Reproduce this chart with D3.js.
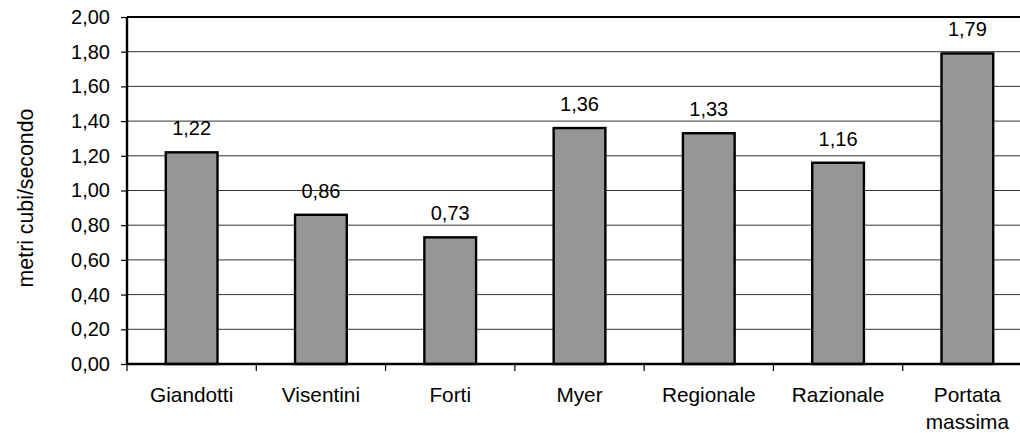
<!DOCTYPE html>
<html>
<head>
<meta charset="utf-8">
<script src="https://cdn.jsdelivr.net/npm/d3@7"></script>
<style>
  html, body { margin: 0; padding: 0; background: #fff; }
  svg { display: block; font-family: "Liberation Sans", Arial, sans-serif; }
</style>
</head>
<body>
<svg id="chart" width="1020" height="433"></svg>
<script>
// Portate stimate con i diversi metodi (m³/s)
const categories = ["Giandotti", "Visentini", "Forti", "Myer", "Regionale", "Razionale", "Portata massima"];
const values = [1.22, 0.86, 0.73, 1.36, 1.33, 1.16, 1.79];
const yTicks = [0, 0.2, 0.4, 0.6, 0.8, 1.0, 1.2, 1.4, 1.6, 1.8, 2.0];
const yTitle = "metri cubi/secondo";

const svg = d3.select("#chart");
const plotLeft = 127, plotTop = 17, plotBottom = 364, plotRight = 1032;

const it = d3.formatLocale({ decimal: ",", thousands: ".", grouping: [3], currency: ["€", ""] });
const fmt = it.format(".2f");

const x = d3.scaleBand()
  .domain(categories)
  .range([plotLeft, plotRight])
  .paddingInner(0.6)
  .paddingOuter(0.3);

const y = d3.scaleLinear().domain([0, 2]).range([plotBottom, plotTop]);

// horizontal gridlines
svg.append("g")
  .selectAll("line")
  .data(yTicks.slice(1))
  .join("line")
  .attr("x1", plotLeft).attr("x2", plotRight)
  .attr("y1", d => y(d)).attr("y2", d => y(d))
  .attr("stroke", d => d === 2 ? "#000" : "#333")
  .attr("stroke-width", d => d === 2 ? 2 : 1);

// y axis
const yAxis = d3.axisLeft(y)
  .tickValues(yTicks)
  .tickSize(6)
  .tickPadding(11)
  .tickFormat(fmt);
const gy = svg.append("g").attr("transform", `translate(${plotLeft},0)`).call(yAxis);
gy.select(".domain").remove();
gy.selectAll(".tick line").attr("stroke", "#000").attr("stroke-width", 1.2);
gy.selectAll(".tick text")
  .attr("font-size", 20)
  .attr("fill", "#000")
  .attr("font-family", "Liberation Sans, Arial, sans-serif");

// bars
svg.append("g")
  .selectAll("rect")
  .data(values)
  .join("rect")
  .attr("x", (d, i) => x(categories[i]))
  .attr("y", d => y(d))
  .attr("width", x.bandwidth())
  .attr("height", d => y(0) - y(d))
  .attr("fill", "#969696")
  .attr("stroke", "#000")
  .attr("stroke-width", 2.4);

// value labels
svg.append("g")
  .selectAll("text")
  .data(values)
  .join("text")
  .attr("x", (d, i) => x(categories[i]) + x.bandwidth() / 2)
  .attr("y", d => y(d) - 17)
  .attr("text-anchor", "middle")
  .attr("font-size", 20)
  .attr("fill", "#000")
  .text(d => fmt(d));

// left, bottom and right frame lines
svg.append("line")
  .attr("x1", plotLeft).attr("x2", plotLeft)
  .attr("y1", y(2)).attr("y2", y(0))
  .attr("stroke", "#000").attr("stroke-width", 2.4);
svg.append("line")
  .attr("x1", plotLeft).attr("x2", plotRight)
  .attr("y1", y(0)).attr("y2", y(0))
  .attr("stroke", "#000").attr("stroke-width", 2.4);
svg.append("line")
  .attr("x1", plotRight).attr("x2", plotRight)
  .attr("y1", y(2)).attr("y2", y(0))
  .attr("stroke", "#000").attr("stroke-width", 2.4);

// category tick marks at band boundaries
const step = x.step();
svg.append("g")
  .selectAll("line")
  .data(d3.range(categories.length + 1))
  .join("line")
  .attr("x1", i => plotLeft + i * step).attr("x2", i => plotLeft + i * step)
  .attr("y1", y(0)).attr("y2", y(0) + 7)
  .attr("stroke", "#000").attr("stroke-width", 1.2);

// category labels (wrapped on spaces)
const catG = svg.append("g");
categories.forEach(c => {
  const cx = x(c) + x.bandwidth() / 2;
  const t = catG.append("text")
    .attr("x", cx)
    .attr("y", 402)
    .attr("text-anchor", "middle")
    .attr("font-size", 20.8)
    .attr("fill", "#000");
  c.split(" ").forEach((w, k) => {
    t.append("tspan")
      .attr("x", cx)
      .attr("dy", k === 0 ? 0 : 26.5)
      .text(w);
  });
});

// y axis title
svg.append("text")
  .attr("transform", "translate(33,198) rotate(-90)")
  .attr("text-anchor", "middle")
  .attr("font-size", 21.3)
  .attr("fill", "#000")
  .text(yTitle);
</script>
</body>
</html>
